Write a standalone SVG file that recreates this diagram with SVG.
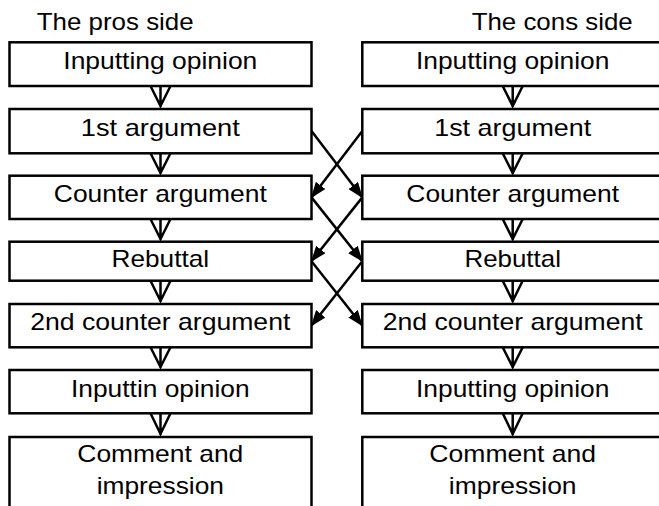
<svg xmlns="http://www.w3.org/2000/svg" width="659" height="506" viewBox="0 0 659 506">
<style>
  .box{fill:#fff;stroke:#000;stroke-width:2.5}
  .t{font-family:"Liberation Sans",Arial,sans-serif;font-size:24px;fill:#000;text-anchor:middle}
  .title{font-family:"Liberation Sans",Arial,sans-serif;font-size:24.5px;fill:#000}
  .down{fill:none;stroke:#000;stroke-width:2.5}
  .cross{fill:none;stroke:#000;stroke-width:2.5;marker-end:url(#ah)}
</style>
<defs>
  <marker id="ah" markerUnits="userSpaceOnUse" viewBox="0 0 16 12" markerWidth="16" markerHeight="12" refX="15" refY="6" orient="auto">
    <path d="M0,0 L16,6 L0,12 z" fill="#000"/>
  </marker>
</defs>
<rect width="659" height="506" fill="#fff"/>
<text class="title" x="36.7" y="29.5" textLength="157" lengthAdjust="spacingAndGlyphs">The pros side</text>
<text class="title" x="471.7" y="29.5" textLength="161" lengthAdjust="spacingAndGlyphs">The cons side</text>

<g id="connectors">
  <path class="down" d="M160.5,86 V107 M150.5,86 L160.5,106 L170.5,86"/>
  <path class="down" d="M160.5,153.3 V174 M150.5,153.3 L160.5,173 L170.5,153.3"/>
  <path class="down" d="M160.5,219 V240 M150.5,219 L160.5,239 L170.5,219"/>
  <path class="down" d="M160.5,280.7 V302 M150.5,280.7 L160.5,301 L170.5,280.7"/>
  <path class="down" d="M160.5,347.3 V368 M150.5,347.3 L160.5,367 L170.5,347.3"/>
  <path class="down" d="M160.5,413.3 V435 M150.5,413.3 L160.5,434 L170.5,413.3"/>
  <path class="down" d="M512.7,86 V107 M502.7,86 L512.7,106 L522.7,86"/>
  <path class="down" d="M512.7,153.3 V174 M502.7,153.3 L512.7,173 L522.7,153.3"/>
  <path class="down" d="M512.7,219 V240 M502.7,219 L512.7,239 L522.7,219"/>
  <path class="down" d="M512.7,280.7 V302 M502.7,280.7 L512.7,301 L522.7,280.7"/>
  <path class="down" d="M512.7,347.3 V368 M502.7,347.3 L512.7,367 L522.7,347.3"/>
  <path class="down" d="M512.7,413.3 V435 M502.7,413.3 L512.7,434 L522.7,413.3"/>
  <line class="cross" x1="311.5" y1="131" x2="362.3" y2="197.4"/>
  <line class="cross" x1="362.3" y1="131" x2="311.5" y2="197.4"/>
  <line class="cross" x1="311.5" y1="197.4" x2="362.3" y2="261.2"/>
  <line class="cross" x1="362.3" y1="197.4" x2="311.5" y2="261.2"/>
  <line class="cross" x1="311.5" y1="261.2" x2="362.3" y2="325.6"/>
  <line class="cross" x1="362.3" y1="261.2" x2="311.5" y2="325.6"/>
</g>

<g id="pro1"><rect class="box" x="9.5" y="42.3" width="302" height="43.7"/><text class="t" x="160.3" y="69.3" textLength="194" lengthAdjust="spacingAndGlyphs">Inputting opinion</text></g>
<g id="pro2"><rect class="box" x="9.5" y="109" width="302" height="44.3"/><text class="t" x="160.3" y="136" textLength="159" lengthAdjust="spacingAndGlyphs">1st argument</text></g>
<g id="pro3"><rect class="box" x="9.5" y="175.7" width="302" height="43.3"/><text class="t" x="160.3" y="201.7" textLength="213" lengthAdjust="spacingAndGlyphs">Counter argument</text></g>
<g id="pro4"><rect class="box" x="9.5" y="241.7" width="302" height="39"/><text class="t" x="160.3" y="267.3" textLength="97.5" lengthAdjust="spacingAndGlyphs">Rebuttal</text></g>
<g id="pro5"><rect class="box" x="9.5" y="304" width="302" height="43.3"/><text class="t" x="160.3" y="330" textLength="260" lengthAdjust="spacingAndGlyphs">2nd counter argument</text></g>
<g id="pro6"><rect class="box" x="9.5" y="370" width="302" height="43.3"/><text class="t" x="160.3" y="396.7" textLength="178.6" lengthAdjust="spacingAndGlyphs">Inputtin opinion</text></g>
<g id="pro7"><rect class="box" x="9.5" y="437" width="302" height="80"/><text class="t" x="160.3" y="461.7" textLength="166" lengthAdjust="spacingAndGlyphs">Comment and</text><text class="t" x="160.3" y="494" textLength="127.3" lengthAdjust="spacingAndGlyphs">impression</text></g>

<g id="con1"><rect class="box" x="362.3" y="42.3" width="302" height="43.7"/><text class="t" x="512.7" y="69.3" textLength="193.5" lengthAdjust="spacingAndGlyphs">Inputting opinion</text></g>
<g id="con2"><rect class="box" x="362.3" y="109" width="302" height="44.3"/><text class="t" x="512.7" y="136" textLength="157" lengthAdjust="spacingAndGlyphs">1st argument</text></g>
<g id="con3"><rect class="box" x="362.3" y="175.7" width="302" height="43.3"/><text class="t" x="512.7" y="201.7" textLength="212.7" lengthAdjust="spacingAndGlyphs">Counter argument</text></g>
<g id="con4"><rect class="box" x="362.3" y="241.7" width="302" height="39"/><text class="t" x="512.7" y="267.3" textLength="96.5" lengthAdjust="spacingAndGlyphs">Rebuttal</text></g>
<g id="con5"><rect class="box" x="362.3" y="304" width="302" height="43.3"/><text class="t" x="512.7" y="330" textLength="260" lengthAdjust="spacingAndGlyphs">2nd counter argument</text></g>
<g id="con6"><rect class="box" x="362.3" y="370" width="302" height="43.3"/><text class="t" x="512.7" y="396.7" textLength="193.3" lengthAdjust="spacingAndGlyphs">Inputting opinion</text></g>
<g id="con7"><rect class="box" x="362.3" y="437" width="302" height="80"/><text class="t" x="512.7" y="461.7" textLength="166.7" lengthAdjust="spacingAndGlyphs">Comment and</text><text class="t" x="512.7" y="494" textLength="127.7" lengthAdjust="spacingAndGlyphs">impression</text></g>
</svg>
